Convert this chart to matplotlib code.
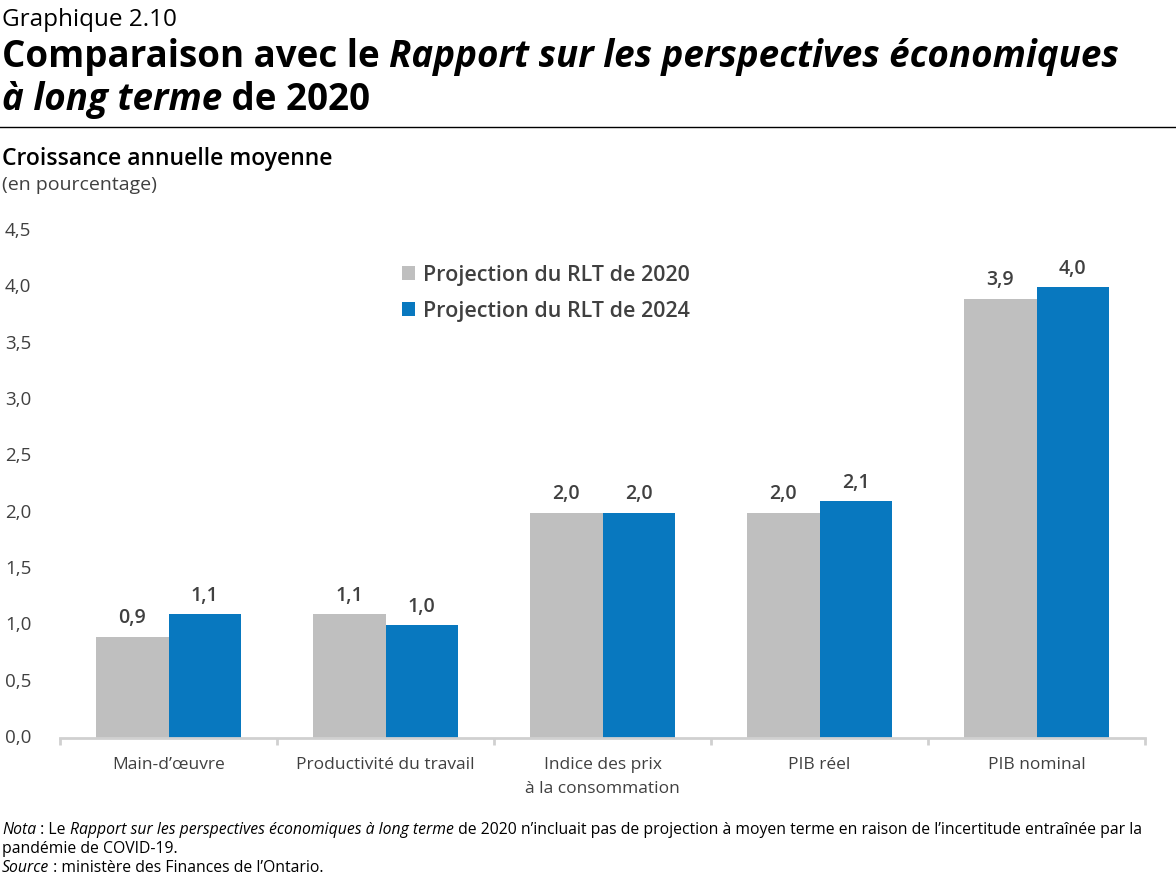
import matplotlib
matplotlib.use('Agg')
import matplotlib.pyplot as plt
import matplotlib.transforms as mtransforms
import numpy as np

plt.rcParams['font.family'] = ['Open Sans', 'DejaVu Sans']

# données
categories = ['Main-d\u2019œuvre', 'Productivité du travail', 'Indice des prix\nà la consommation',
              'PIB réel', 'PIB nominal']
rlt_2020 = [0.9, 1.1, 2.0, 2.0, 3.9]
rlt_2024 = [1.1, 1.0, 2.0, 2.1, 4.0]
series_names = ['Projection du RLT de 2020', 'Projection du RLT de 2024']
y_ticks = [0.0, 0.5, 1.0, 1.5, 2.0, 2.5, 3.0, 3.5, 4.0, 4.5]

GREY = '#BFBFBF'
BLUE = '#0878BF'
DARK = '#404040'

W, H = 1176, 888
fig = plt.figure(figsize=(W / 100, H / 100), dpi=100)
ax = fig.add_axes([60 / W, 1 - 738 / H, (1145 - 60) / W, (738 - 231) / H])

x = np.arange(len(categories))
bw = 0.333
b1 = ax.bar(x - bw / 2, rlt_2020, bw, color=GREY, label=series_names[0])
b2 = ax.bar(x + bw / 2, rlt_2024, bw, color=BLUE, label=series_names[1])

for bars, vals in [(b1, rlt_2020), (b2, rlt_2024)]:
    for r, v in zip(bars, vals):
        ax.annotate(f'{v:.1f}'.replace('.', ','), (r.get_x() + r.get_width() / 2, v),
                    xytext=(0, 6), textcoords='offset points', ha='center', va='bottom',
                    fontsize=14, color=DARK, fontweight='semibold')

ax.set_xlim(-0.5, len(categories) - 0.5)
ax.set_ylim(0, 4.5)
for s in ['top', 'right', 'left']:
    ax.spines[s].set_visible(False)
ax.spines['bottom'].set_color('#D0D0D0')
ax.spines['bottom'].set_linewidth(2)

# graduations entre catégories
ax.set_xticks(np.arange(-0.5, len(categories), 1.0))
ax.set_xticklabels([])
ax.tick_params(axis='x', length=5, width=2, color='#D0D0D0')
ax.set_xticks(x, minor=True)
ax.set_xticklabels(categories, minor=True, fontsize=12.5, color=DARK, linespacing=1.6)
ax.tick_params(axis='x', which='minor', length=0, pad=14)

ax.set_yticks(y_ticks)
ax.set_yticklabels([])
ax.tick_params(axis='y', length=0)
trans = mtransforms.blended_transform_factory(fig.transFigure, ax.transData)
for t in y_ticks:
    fig.text(5 / W, t, f'{t:.1f}'.replace('.', ','), transform=trans, ha='left', va='center',
             fontsize=13.5, color=DARK)

leg = ax.legend(loc='upper left', bbox_to_anchor=(391 / W, 1 - 254 / H), bbox_transform=fig.transFigure,
                frameon=False, borderpad=0, handlelength=0.6, handleheight=0.6, handletextpad=0.4,
                labelspacing=0.7, prop={'weight': 'semibold', 'size': 15.5})
for t in leg.get_texts():
    t.set_color(DARK)

# textes composés (gras / italique)
fig.canvas.draw()
renderer = fig.canvas.get_renderer()


def runs(x0, y0, parts, **kw):
    xp = x0
    for txt, extra in parts:
        opts = dict(kw)
        opts.update(extra)
        t = fig.text(xp / W, 1 - y0 / H, txt, va='baseline', ha='left', **opts)
        bb = t.get_window_extent(renderer)
        xp += bb.width


fig.text(2 / W, 1 - 26 / H, 'Graphique 2.10', fontsize=17.5, color='black', va='baseline')
tk = dict(fontsize=26.5, fontweight='bold', color='black')
runs(2, 67, [('Comparaison avec le ', {}),
             ('Rapport sur les perspectives économiques', {'style': 'italic'})], **tk)
runs(2, 110, [('à long terme', {'style': 'italic'}), (' de 2020', {})], **tk)
fig.add_artist(plt.Line2D([0, 1], [1 - 127 / H, 1 - 127 / H], color='black', linewidth=1))

fig.text(2 / W, 1 - 165 / H, 'Croissance annuelle moyenne', fontsize=16.5, fontweight='semibold',
         color='black', va='baseline')
fig.text(2 / W, 1 - 190 / H, '(en pourcentage)', fontsize=14, color=DARK, va='baseline')

nk = dict(fontsize=11.3, color='black')
runs(2, 834, [('Nota', {'style': 'italic'}), (' : Le ', {}),
              ('Rapport sur les perspectives économiques à long terme', {'style': 'italic'}),
              (' de 2020 n\u2019incluait pas de projection à moyen terme en raison de '
               'l\u2019incertitude entraînée par la', {})], **nk)
runs(2, 853, [('pandémie de COVID-19.', {})], **nk)
runs(2, 872, [('Source', {'style': 'italic'}), (' : ministère des Finances de l\u2019Ontario.', {})], **nk)

fig.savefig('out.png', dpi=100)
